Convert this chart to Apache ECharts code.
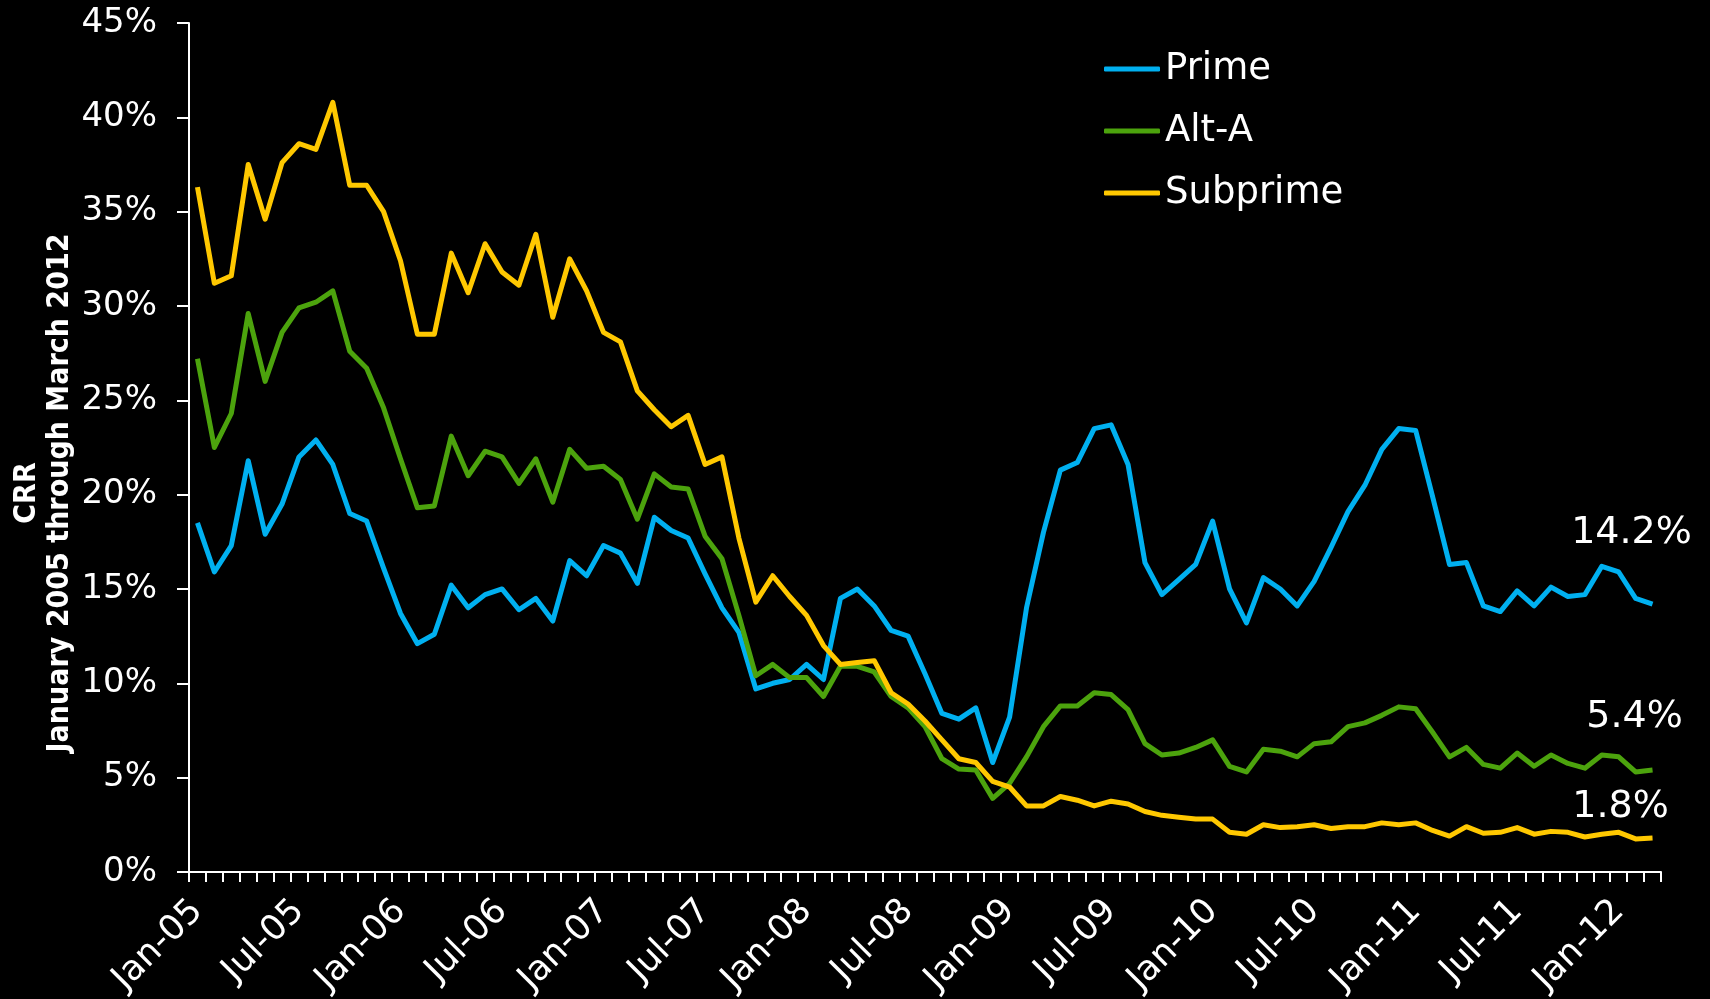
<!DOCTYPE html>
<html>
<head>
<meta charset="utf-8">
<title>CRR by loan type</title>
<script src="https://cdn.jsdelivr.net/npm/echarts@6/dist/echarts.min.js"></script>
<style>
  html, body { margin: 0; padding: 0; background: #000; }
  #chart { width: 1710px; height: 999px; }
</style>
</head>
<body>
<div id="chart"></div>
<script>
// Monthly CRR (%), January 2005 through March 2012
const monthNames = ['Jan','Feb','Mar','Apr','May','Jun','Jul','Aug','Sep','Oct','Nov','Dec'];
const months = [];
for (let y = 2005; y <= 2012; y++) {
  for (let m = 0; m < 12; m++) {
    if (y === 2012 && m > 2) break;
    months.push(monthNames[m] + '-' + String(y).slice(2));
  }
}

const prime = [
  18.5, 15.9, 17.3, 21.8, 17.9, 19.5, 22.0, 22.9, 21.6, 19.0, 18.6, 16.1,
  13.7, 12.1, 12.6, 15.2, 14.0, 14.7, 15.0, 13.9, 14.5, 13.3, 16.5, 15.7,
  17.3, 16.9, 15.3, 18.8, 18.1, 17.7, 15.8, 14.0, 12.7, 9.7, 10.0, 10.2,
  11.0, 10.2, 14.5, 15.0, 14.1, 12.8, 12.5, 10.5, 8.4, 8.1, 8.7, 5.8,
  8.2, 14.0, 18.0, 21.3, 21.7, 23.5, 23.7, 21.6, 16.4, 14.7, 15.5, 16.3,
  18.6, 15.0, 13.2, 15.6, 15.0, 14.1, 15.4, 17.2, 19.1, 20.5, 22.4, 23.5,
  23.4, 19.9, 16.3, 16.4, 14.1, 13.8, 14.9, 14.1, 15.1, 14.6, 14.7, 16.2,
  15.9, 14.5, 14.2
];

const altA = [
  27.2, 22.5, 24.3, 29.6, 26.0, 28.6, 29.9, 30.2, 30.8, 27.6, 26.7, 24.6,
  21.9, 19.3, 19.4, 23.1, 21.0, 22.3, 22.0, 20.6, 21.9, 19.6, 22.4, 21.4,
  21.5, 20.8, 18.7, 21.1, 20.4, 20.3, 17.8, 16.6, 13.6, 10.4, 11.0, 10.3,
  10.3, 9.3, 10.9, 10.9, 10.6, 9.3, 8.7, 7.7, 6.0, 5.45, 5.4, 3.9,
  4.7, 6.1, 7.7, 8.8, 8.8, 9.5, 9.4, 8.6, 6.8, 6.2, 6.3, 6.6,
  7.0, 5.6, 5.3, 6.5, 6.4, 6.1, 6.8, 6.9, 7.7, 7.9, 8.3, 8.75,
  8.65, 7.4, 6.1, 6.6, 5.7, 5.5, 6.3, 5.6, 6.2, 5.75, 5.5, 6.2,
  6.1, 5.3, 5.4
];

const subprime = [
  36.3, 31.2, 31.6, 37.5, 34.6, 37.6, 38.6, 38.3, 40.8, 36.4, 36.4, 35.0,
  32.4, 28.5, 28.5, 32.8, 30.7, 33.3, 31.8, 31.1, 33.8, 29.4, 32.5, 30.8,
  28.6, 28.1, 25.5, 24.5, 23.6, 24.2, 21.6, 22.0, 17.7, 14.3, 15.7, 14.6,
  13.6, 12.0, 11.0, 11.1, 11.2, 9.5, 8.9, 8.0, 7.0, 6.0, 5.8, 4.8,
  4.5, 3.5, 3.5, 4.0, 3.8, 3.5, 3.75, 3.6, 3.2, 3.0, 2.9, 2.8,
  2.8, 2.1, 2.0, 2.5, 2.35, 2.4, 2.5, 2.3, 2.4, 2.4, 2.6, 2.5,
  2.6, 2.2, 1.9, 2.4, 2.05, 2.1, 2.35, 2.0, 2.15, 2.1, 1.85, 2.0,
  2.1, 1.75, 1.8
];

const yTicks = { min: 0, max: 45, step: 5 };
const axisTitle = ['CRR', 'January 2005 through March 2012'];

const FONT = 'DejaVu Sans';

// Latest-value callout placed near the end of each line
function endValue(values, offset) {
  const last = values.length - 1;
  return {
    symbol: 'circle',
    symbolSize: 1,
    itemStyle: { color: 'rgba(0,0,0,0)' },
    label: {
      show: true,
      position: 'inside',
      offset: offset,
      color: '#fff',
      fontFamily: FONT,
      fontSize: 38,
      formatter: p => p.value.toFixed(1) + '%'
    },
    data: [{ coord: [months[last], values[last]], value: values[last] }]
  };
}

function lineSeries(name, values, color, offset) {
  return {
    name: name,
    type: 'line',
    data: values,
    symbol: 'none',
    lineStyle: { color: color, width: 5, join: 'round' },
    itemStyle: { color: color },
    markPoint: endValue(values, offset)
  };
}

const chart = echarts.init(document.getElementById('chart'));
chart.setOption({
  backgroundColor: '#000',
  animation: false,
  grid: { left: 189, top: 23, width: 1472, height: 852 },
  legend: {
    orient: 'vertical',
    left: 1099,
    top: 44,
    icon: 'roundRect',
    itemWidth: 56,
    itemHeight: 5,
    itemGap: 22,
    textStyle: { color: '#fff', fontFamily: FONT, fontSize: 37, lineHeight: 40 },
    data: ['Prime', 'Alt-A', 'Subprime']
  },
  xAxis: {
    type: 'category',
    data: months,
    boundaryGap: true,
    axisLine: { lineStyle: { color: '#fff', width: 2 } },
    axisTick: { show: true, interval: 0, length: 10, lineStyle: { color: '#fff', width: 2 } },
    axisLabel: {
      interval: 5,
      rotate: 45,
      margin: 34,
      color: '#fff',
      fontFamily: FONT,
      fontSize: 35
    },
    splitLine: { show: false }
  },
  yAxis: {
    type: 'value',
    min: yTicks.min,
    max: yTicks.max,
    interval: yTicks.step,
    axisLine: { show: true, lineStyle: { color: '#fff', width: 2 } },
    axisTick: { show: true, length: 12, lineStyle: { color: '#fff', width: 2 } },
    axisLabel: {
      formatter: '{value}%',
      margin: 32,
      color: '#fff',
      fontFamily: FONT,
      fontSize: 34
    },
    splitLine: { show: false }
  },
  graphic: [{
    type: 'text',
    x: 44,
    y: 493,
    rotation: Math.PI / 2,
    style: {
      text: axisTitle.join('\n'),
      fill: '#fff',
      font: 'bold 30px "DejaVu Sans Condensed", "DejaVu Sans", sans-serif',
      textAlign: 'center',
      textVerticalAlign: 'middle',
      lineHeight: 33
    }
  }],
  series: [
    lineSeries('Prime', prime, '#00B0F0', [-21, -71]),
    lineSeries('Alt-A', altA, '#4CA30D', [-18, -53]),
    lineSeries('Subprime', subprime, '#FFC800', [-32, -31])
  ]
});
</script>
</body>
</html>
